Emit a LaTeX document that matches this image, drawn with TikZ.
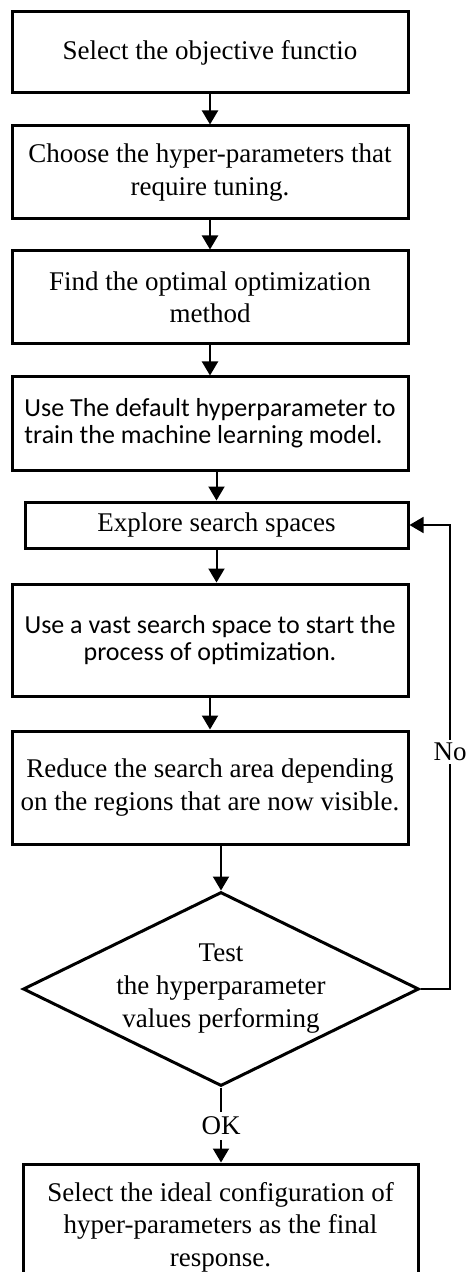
\documentclass[tikz,border=0pt]{standalone}
\usepackage{fontspec}
\setmainfont{Liberation Serif}
\newfontfamily\calibri{Carlito}
\usetikzlibrary{arrows.meta,shapes.geometric}

\tikzset{
  stepbox/.style={draw, line width=1.5pt, align=center, inner sep=0pt,
    minimum width=198pt, font=\fontsize{13.5}{16.2}\selectfont},
  sansbox/.style={stepbox, font=\calibri\fontsize{13}{13.6}\selectfont},
  testbox/.style={draw, diamond, aspect=2.04, line width=1.5pt, align=center, inner sep=0pt,
    minimum width=198pt, minimum height=97pt, font=\fontsize{13.5}{16.5}\selectfont},
  flow/.style={line width=1pt, -{Triangle[width=8pt,length=7pt]}},
  back/.style={line width=0.8pt, -{Triangle[width=8pt,length=7pt]}},
}

\begin{document}
\begin{tikzpicture}[x=0.5pt,y=-0.5pt]
  \useasboundingbox (0,0) rectangle (465,1272);

  % the steps, top to bottom
  \node[stepbox, minimum height=40.5pt] (b1) at (210,52.5) {Select the objective functio};
  \node[stepbox, minimum height=46.5pt] (b2) at (210,172.5)
    {Choose the hyper-parameters that\\require tuning.};
  \node[stepbox, minimum height=46.5pt] (b3) at (210,297.5)
    {Find the optimal optimization\\method};
  \node[sansbox, minimum height=46.5pt, align=left] (b4) at (210,423.5)
    {Use The default hyperparameter to\\train the machine learning model.};
  \node[stepbox, minimum width=191.5pt, minimum height=23pt] (b5) at (216.5,525)
    {Explore search spaces};
  \node[sansbox, minimum height=56pt] (b6) at (210,640)
    {Use a vast search space to start the\\process of optimization.};
  \node[stepbox, minimum height=56.5pt] (b7) at (210,787.5)
    {Reduce the search area depending\\on the regions that are now visible.};
  \node[testbox] (dia) at (221,989)
    {Test\\the hyperparameter\\values performing};
  \node[stepbox, minimum width=197.5pt, minimum height=63pt] (b8) at (220.5,1227)
    {Select the ideal configuration of\\hyper-parameters as the final\\response.};

  % straight-down arrows
  \draw[flow] (b1) -- (b2);
  \draw[flow] (b2) -- (b3);
  \draw[flow] (b3) -- (b4);
  \draw[flow] (b4.south -| b5.north) -- (b5.north);
  \draw[flow] (b5.south) -- (b5.south |- b6.north);
  \draw[flow] (b6) -- (b7);
  \draw[flow] (b7.south -| dia.north) -- (dia.north);

  % OK leaves the test downwards
  \node[inner sep=2.5pt, font=\fontsize{13.5}{16}\selectfont] (ok) at (221,1126) {OK};
  \draw[flow] (dia.south) -- (ok) -- (ok |- b8.north);

  % No goes back to the search spaces
  \coordinate (turn) at (450,989);
  \draw[back] (dia.east) -- (turn) |- (b5.east);
  \node[fill=white, inner sep=1.5pt, font=\fontsize{13.5}{16}\selectfont] (no) at (450,752) {No};
\end{tikzpicture}
\end{document}
